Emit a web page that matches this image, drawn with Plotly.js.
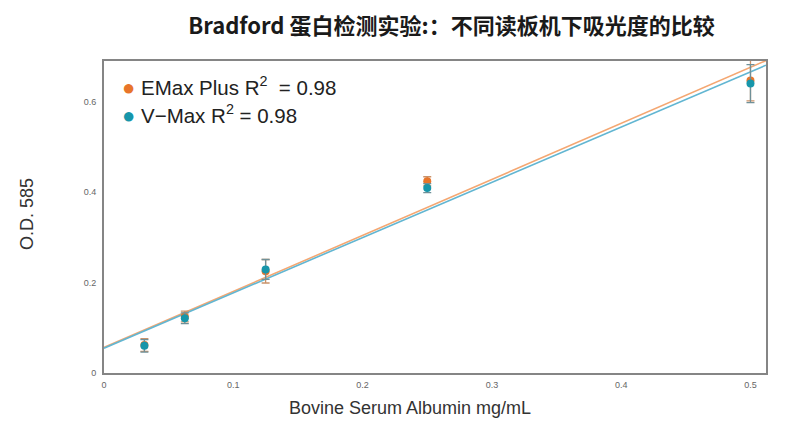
<!DOCTYPE html>
<html>
<head>
<meta charset="utf-8">
<script src="https://cdn.plot.ly/plotly-3.0.1.min.js"></script>
<style>html,body{margin:0;padding:0;background:#fff;}#chart{width:792px;height:425px;}</style>
</head>
<body>
<div id="chart"></div>
<script>
// Data
const bsaConc = [0.03125, 0.0625, 0.125, 0.25, 0.5];
const emaxOD = [0.062, 0.125, 0.225, 0.424, 0.647];
const emaxErr = [0.014, 0.012, 0.026, 0.010, 0.045];
const vmaxOD = [0.060, 0.121, 0.229, 0.409, 0.640];
const vmaxErr = [0.014, 0.012, 0.022, 0.010, 0.042];
const seriesNames = ["EMax Plus", "V\u2212Max"];
const seriesR2 = ["R<sup>2</sup>  = 0.98", "R<sup>2</sup> = 0.98"];
const xTicks = [0, 0.1, 0.2, 0.3, 0.4, 0.5];
const yTicks = [0, 0.2, 0.4, 0.6];
const xRange = [0, 0.512];
const yRange = [0, 0.69];

function fit(x, y) {
  const n = x.length;
  const mx = x.reduce((a, b) => a + b, 0) / n;
  const my = y.reduce((a, b) => a + b, 0) / n;
  let sxy = 0, sxx = 0;
  for (let i = 0; i < n; i++) { sxy += (x[i] - mx) * (y[i] - my); sxx += (x[i] - mx) ** 2; }
  const m = sxy / sxx;
  return { m: m, b: my - m * mx };
}
const fe = fit(bsaConc, emaxOD);
const fv = fit(bsaConc, vmaxOD);
const lineX = [xRange[0], xRange[1]];

const orange = "#E8752A";
const teal = "#1796AA";
const colors = [orange, teal];

const traces = [
  { x: lineX, y: lineX.map(v => fe.m * v + fe.b), mode: "lines", line: { color: "#F4A772", width: 1.6 }, showlegend: false, hoverinfo: "skip" },
  { x: lineX, y: lineX.map(v => fv.m * v + fv.b), mode: "lines", line: { color: "#62B6D2", width: 1.6 }, showlegend: false, hoverinfo: "skip" },
  { x: bsaConc, y: emaxOD, mode: "markers", name: seriesNames[0], showlegend: false,
    marker: { color: orange, size: 8 },
    error_y: { type: "data", array: emaxErr, visible: true, color: "#C9926A", thickness: 1.3, width: 4 }, cliponaxis: false },
  { x: bsaConc, y: vmaxOD, mode: "markers", name: seriesNames[1], showlegend: false,
    marker: { color: teal, size: 8 },
    error_y: { type: "data", array: vmaxErr, visible: true, color: "#6F9098", thickness: 1.3, width: 4 }, cliponaxis: false }
];

const legendFont = { family: "Liberation Sans, Arial, sans-serif", size: 20.5, color: "#222" };
const legendAnn = seriesNames.map((nm, i) => ({
  text: '<span style="color:' + colors[i] + ';font-size:22px">\u25CF</span> ' + nm + ' ' + seriesR2[i],
  xref: "paper", yref: "paper", x: 0.024, y: i === 0 ? 0.917 : 0.83, xanchor: "left", yanchor: "middle",
  showarrow: false, font: legendFont
}));

const layout = {
  width: 792, height: 425,
  paper_bgcolor: "#fff", plot_bgcolor: "#fff",
  margin: { l: 104, r: 26, t: 61, b: 52 },
  title: { text: "<b>Bradford 蛋白检测实验:：不同读板机下吸光度的比较</b>", x: 0.57, xanchor: "center", y: 0.937, yanchor: "middle",
    font: { family: "Noto Sans CJK SC, Noto Sans, sans-serif", size: 22, color: "#1a1a1a" } },
  xaxis: { range: xRange, tickvals: xTicks, ticktext: xTicks.map(String), showgrid: false, zeroline: false,
    showline: true, linecolor: "#858585", linewidth: 2, mirror: true, ticks: "", ticklabelstandoff: 2,
    tickfont: { family: "Liberation Sans, Arial, sans-serif", size: 9, color: "#666" } },
  yaxis: { range: yRange, tickvals: yTicks, ticktext: yTicks.map(String), showgrid: false, zeroline: false,
    showline: true, linecolor: "#858585", linewidth: 2, mirror: true, ticks: "", ticklabelstandoff: 4,
    tickfont: { family: "Liberation Sans, Arial, sans-serif", size: 9, color: "#666" } },
  annotations: legendAnn.concat([
    { text: "Bovine Serum Albumin mg/mL", xref: "paper", yref: "paper", x: 0.462, y: -0.112, xanchor: "center", yanchor: "middle", showarrow: false,
      font: { family: "Liberation Sans, Arial, sans-serif", size: 18, color: "#333" } },
    { text: "O.D. 585", xref: "paper", yref: "paper", x: -0.116, y: 0.51, xanchor: "center", yanchor: "middle", textangle: -90, showarrow: false,
      font: { family: "Liberation Sans, Arial, sans-serif", size: 18, color: "#333" } }
  ])
};

Plotly.newPlot("chart", traces, layout, { displayModeBar: false, staticPlot: true });
</script>
</body>
</html>
